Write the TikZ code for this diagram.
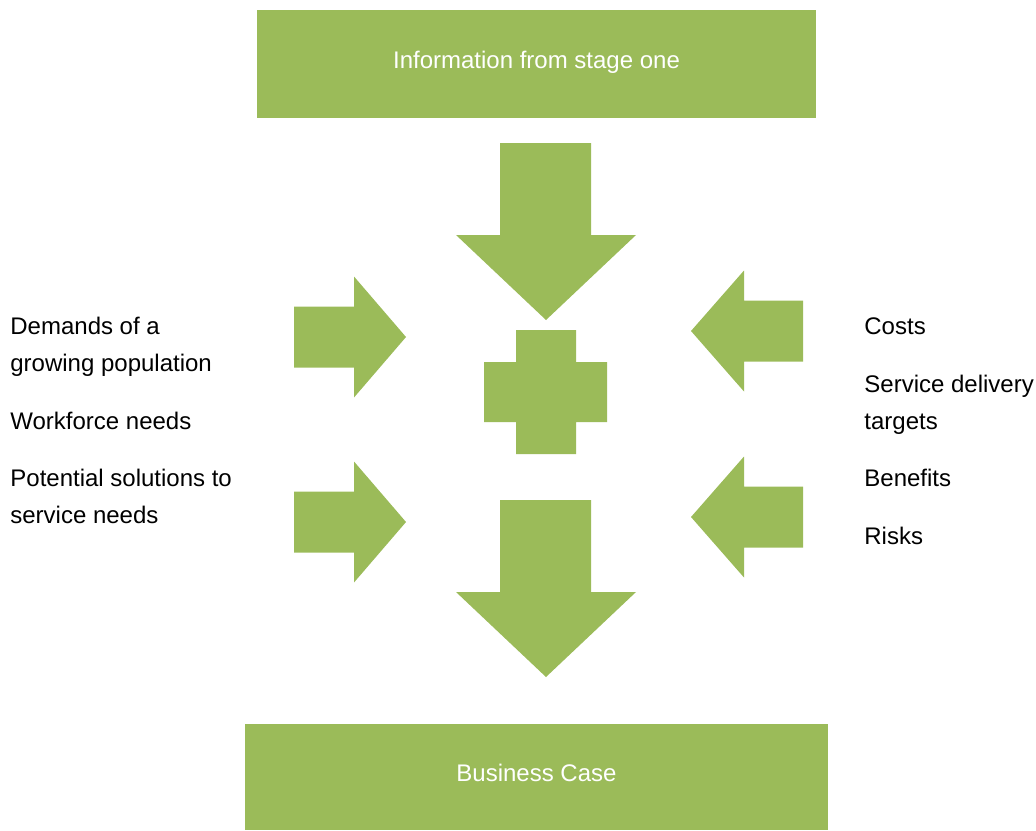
\documentclass[tikz,border=0pt]{standalone}
\usepackage{fontspec}
\setmainfont{Liberation Sans}
\definecolor{leaf}{HTML}{9BBB59}
\tikzset{block/.style={fill=leaf, text=white, inner sep=0pt, minimum height=54pt,
                       text height=8.5pt, text depth=4pt},
         note/.style={anchor=base west, inner sep=0pt, align=left},
         greenfill/.style={fill=leaf}}

\begin{document}
\begin{tikzpicture}[x=0.5pt,y=-0.5pt,font=\fontsize{12}{18.5}\selectfont]
  \useasboundingbox (0,0) rectangle (1036,830);
  \node[block, minimum width=279.5pt] (stage) at (536.5,64) {Information from stage one};
  \node[block, minimum width=291.5pt, minimum height=53pt] (case) at (536.5,777) {Business Case};
  % big arrows down the middle
  \foreach \y in {143,500}
    \fill[greenfill] (500,\y) -- (591,\y) -- (591,\y+92) -- (636,\y+92) -- (546,\y+177)
      -- (456,\y+92) -- (500,\y+92) -- cycle;
  \fill[greenfill] (516,330) rectangle (576,454) (484,362) rectangle (607,422);
  % side arrows
  \foreach \y in {337,522}
    \fill[greenfill] (294,\y-30.5) -- (354,\y-30.5) -- (354,\y-60.5) -- (406,\y)
      -- (354,\y+60.5) -- (354,\y+30.5) -- (294,\y+30.5) -- cycle;
  \foreach \y in {331,517}
    \fill[greenfill] (803,\y-30.5) -- (744,\y-30.5) -- (744,\y-60.5) -- (691,\y)
      -- (744,\y+60.5) -- (744,\y+30.5) -- (803,\y+30.5) -- cycle;
  % base is the last line
  \node[note] (demands) at (10,371) {Demands of a\\growing population};
  \node[note] (workforce) at (10,429) {Workforce needs};
  \node[note] (solutions) at (10,523) {Potential solutions to\\service needs};
  \node[note] (costs) at (864,334) {Costs};
  \node[note] (targets) at (864,429) {Service delivery\\targets};
  \node[note] (benefits) at (864,486) {Benefits};
  \node[note] (risks) at (864,544) {Risks};
\end{tikzpicture}
\end{document}
